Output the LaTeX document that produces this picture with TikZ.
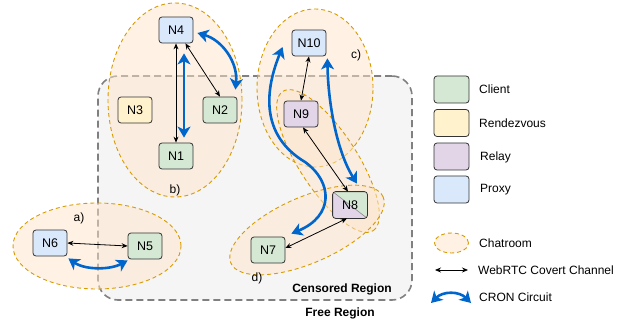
\documentclass[tikz,border=0pt]{standalone}
\usepackage{fontspec}
\setmainfont{Liberation Sans}
\usetikzlibrary{arrows.meta,shapes.geometric}
\definecolor{clientc}{HTML}{D5E8D4}
\definecolor{rendc}{HTML}{FFF2CC}
\definecolor{relayc}{HTML}{E1D5E7}
\definecolor{proxyc}{HTML}{DAE8FC}
\definecolor{chatfill}{HTML}{FFE6CC}
\definecolor{chatline}{HTML}{D79B00}
\definecolor{cronblue}{HTML}{0066CC}
\definecolor{regfill}{HTML}{F5F5F5}
\definecolor{regline}{HTML}{808080}
\begin{document}
\begin{tikzpicture}[x=1pt,y=-1pt,
  every node/.style={font=\fontsize{12}{14}\selectfont},
  nodebox/.style={draw=black!80, line width=0.8pt, rounded corners=3pt, minimum width=34pt, minimum height=26pt, inner sep=0pt, font=\fontsize{12.5}{14}\selectfont},
  chat/.style={ellipse, draw=chatline, dash pattern=on 4pt off 3pt, line width=0.9pt, fill=chatfill, fill opacity=0.5, inner sep=0pt},
  region/.style={draw=regline, fill=regfill, dash pattern=on 7pt off 4pt, line width=1.6pt, rounded corners=20pt, inner sep=0pt},
  webrtc/.style={black, line width=0.8pt, {Stealth[length=6pt,width=5pt]}-{Stealth[length=6pt,width=5pt]}},
  cron/.style={cronblue, line width=2.6pt, {Stealth[length=11pt,width=13pt,inset=3pt]}-{Stealth[length=11pt,width=13pt,inset=3pt]}},
  lbl/.style={anchor=west, inner sep=0pt},
  boldlbl/.style={font=\fontsize{12}{14}\selectfont\bfseries}
]
\useasboundingbox (0,0) rectangle (631,323);

% censored region
\node[region, minimum width=314pt, minimum height=224pt] (censored) at (255,188) {};
\node[boldlbl] (censoredtxt) at (342,289) {Censored Region};
\node[boldlbl] (freetxt) at (340,313) {Free Region};

% chatrooms
\node[chat, minimum width=168pt, minimum height=86pt] (chatA) at (97,246) {};
\node[chat, minimum width=134pt, minimum height=194pt] (chatB) at (175,100) {};
\node[chat, minimum width=116pt, minimum height=158pt] (chatC) at (315,88) {};
\node[chat, minimum width=166pt, minimum height=58pt, rotate=-57] (chatCb) at (328,161) {};
\node[chat, minimum width=166pt, minimum height=66pt, rotate=23.5] (chatD) at (307,230) {};

\node (la) at (79,218) {a)};
\node (lb) at (175,190) {b)};
\node (lc) at (356,55) {c)};
\node (ld) at (257,278) {d)};

% nodes
\node[nodebox, fill=proxyc] (n4) at (176,30) {N4};
\node[nodebox, fill=rendc] (n3) at (135,110) {N3};
\node[nodebox, fill=clientc] (n2) at (220,110) {N2};
\node[nodebox, fill=clientc] (n1) at (176,156) {N1};
\node[nodebox, fill=proxyc] (n10) at (309,43) {N10};
\node[nodebox, fill=relayc] (n9) at (301,114) {N9};
\node[nodebox, fill=clientc] (n7) at (268,250) {N7};
\node[nodebox, fill=proxyc] (n6) at (50,243) {N6};
\node[nodebox, fill=clientc] (n5) at (145,246) {N5};

% N8 split node
\node[nodebox, fill=clientc, draw=none] (n8) at (350,205) {};
\begin{scope}
  \clip[rounded corners=3pt] (n8.south west) rectangle (n8.north east);
  \fill[relayc] (n8.north west) -- (n8.south east) -- (n8.south west) -- cycle;
  \draw[black!45, line width=0.6pt] (n8.north west) -- (n8.south east);
\end{scope}
\draw[black!80, line width=0.8pt, rounded corners=3pt] (n8.south west) rectangle (n8.north east);
\node[font=\fontsize{12.5}{14}\selectfont] (n8t) at (n8) {N8};

% WebRTC channels
\draw[webrtc] (n4.south) -- (n1.north);
\draw[webrtc] ([shift={(-8,0)}]n4.south east) -- (n2.north);
\draw[webrtc] (n6.east) -- (n5.west);
\draw[webrtc] (n10.south) -- (n9.north);
\draw[webrtc] ([shift={(2,0)}]n9.south) -- ([shift={(-2,0)}]n8.north);
\draw[webrtc] ([shift={(-3,0)}]n8.south) -- ([shift={(0,-2)}]n7.east);

% CRON circuits
\draw[cron] ([shift={(4,3)}]n4.east) .. controls (222,40) and (238,62) .. ([shift={(-2,-7)}]n2.north east);
\draw[cron] ([shift={(8,10)}]n4.south) -- ([shift={(8,-5)}]n1.north);
\draw[cron] ([shift={(1,2)}]n6.south east) .. controls (85,270) and (110,270) .. ([shift={(0,1)}]n5.south west);
\coordinate (cmid) at (305,162);
\draw[cron] ([shift={(-9,4)}]n10.west) .. controls (265,90) and (260,135) .. (cmid) .. controls (333,182) and (334,216) .. ([shift={(6,-3)}]n7.north east);
\draw[cron] ([shift={(1,2)}]n10.south east) .. controls (328,100) and (336,150) .. ([shift={(7,-8)}]n8.north);

% legend
\node[nodebox, fill=clientc, minimum width=35pt, minimum height=27pt] (lgclient) at (451.5,89.5) {};
\node[lbl] (lgclienttxt) at (479,89.5) {Client};
\node[nodebox, fill=rendc, minimum width=35pt, minimum height=27pt] (lgrend) at (451.5,123) {};
\node[lbl] (lgrendtxt) at (479,123) {Rendezvous};
\node[nodebox, fill=relayc, minimum width=35pt, minimum height=27pt] (lgrelay) at (451.5,156.5) {};
\node[lbl] (lgrelaytxt) at (480,157) {Relay};
\node[nodebox, fill=proxyc, minimum width=35pt, minimum height=27pt] (lgproxy) at (451.5,189.5) {};
\node[lbl] (lgproxytxt) at (480,190) {Proxy};
\node[chat, minimum width=34pt, minimum height=20pt] (lgchat) at (451.5,243) {};
\node[lbl] (lgchattxt) at (479,243) {Chatroom};
\coordinate (lgw1) at (435,270);
\coordinate (lgw2) at (468,270);
\draw[webrtc] (lgw1) -- (lgw2);
\node[lbl] (lgwebtxt) at (478,270) {WebRTC Covert Channel};
\coordinate (lgc1) at (431,303);
\coordinate (lgc2) at (471,303);
\draw[cron] (lgc1) .. controls (443,291) and (459,291) .. (lgc2);
\node[lbl] (lgcrontxt) at (479,297) {CRON Circuit};
\end{tikzpicture}
\end{document}
